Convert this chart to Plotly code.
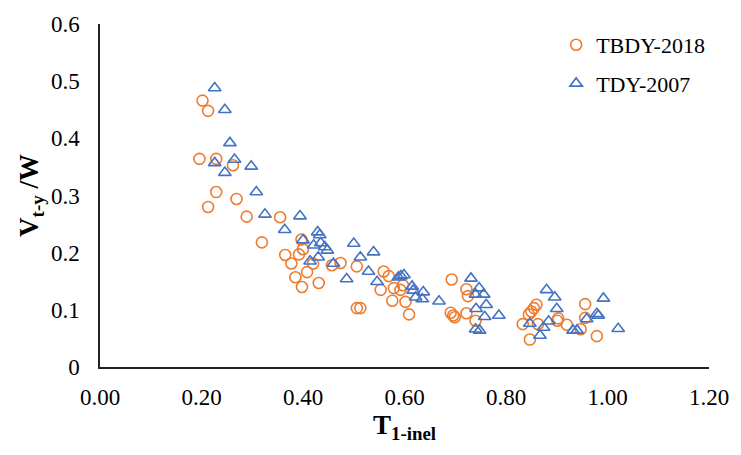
import plotly.graph_objects as go

tbdy_x = [0.202, 0.213, 0.196, 0.229, 0.262, 0.229, 0.269, 0.213, 0.289, 0.355,
          0.319, 0.397, 0.400, 0.392, 0.365, 0.377, 0.420, 0.408, 0.385, 0.431,
          0.398, 0.457, 0.474, 0.506, 0.559, 0.569, 0.553, 0.579, 0.592, 0.597,
          0.576, 0.602, 0.506, 0.513, 0.609, 0.693, 0.722, 0.725, 0.691, 0.696,
          0.699, 0.722, 0.740, 0.860, 0.855, 0.850, 0.845, 0.833, 0.863, 0.847,
          0.903, 0.901, 0.920, 0.947, 0.956, 0.956, 0.979]
tbdy_y = [0.466, 0.448, 0.364, 0.364, 0.353, 0.306, 0.294, 0.280, 0.263, 0.262,
          0.218, 0.223, 0.206, 0.197, 0.196, 0.181, 0.181, 0.166, 0.157, 0.147,
          0.140, 0.178, 0.182, 0.176, 0.167, 0.159, 0.135, 0.138, 0.135, 0.143,
          0.116, 0.114, 0.103, 0.103, 0.092, 0.153, 0.136, 0.124, 0.095, 0.090,
          0.087, 0.094, 0.081, 0.109, 0.103, 0.097, 0.092, 0.075, 0.075, 0.048,
          0.085, 0.081, 0.074, 0.066, 0.110, 0.086, 0.054]

tdy_x = [0.226, 0.246, 0.256, 0.265, 0.226, 0.246, 0.298, 0.308, 0.325, 0.394,
         0.364, 0.400, 0.429, 0.433, 0.421, 0.435, 0.443, 0.448, 0.430, 0.414,
         0.460, 0.486, 0.500, 0.513, 0.539, 0.529, 0.546, 0.588, 0.593, 0.599,
         0.615, 0.617, 0.637, 0.622, 0.635, 0.668, 0.731, 0.747, 0.740, 0.756,
         0.761, 0.741, 0.758, 0.740, 0.748, 0.786, 0.880, 0.896, 0.900, 0.884,
         0.847, 0.874, 0.867, 0.932, 0.940, 0.959, 0.979, 0.982, 0.992, 1.021]
tdy_y = [0.488, 0.450, 0.392, 0.363, 0.357, 0.340, 0.351, 0.306, 0.267, 0.264,
         0.240, 0.222, 0.236, 0.231, 0.213, 0.217, 0.210, 0.204, 0.192, 0.185,
         0.181, 0.154, 0.216, 0.192, 0.201, 0.167, 0.149, 0.157, 0.159, 0.161,
         0.141, 0.134, 0.131, 0.122, 0.119, 0.115, 0.155, 0.138, 0.127, 0.127,
         0.109, 0.102, 0.088, 0.066, 0.064, 0.090, 0.135, 0.122, 0.102, 0.080,
         0.076, 0.069, 0.055, 0.064, 0.064, 0.084, 0.093, 0.090, 0.120, 0.067]

x_ticks = [0.0, 0.2, 0.4, 0.6, 0.8, 1.0, 1.2]
y_ticks = [0, 0.1, 0.2, 0.3, 0.4, 0.5, 0.6]

ORANGE = "#ED7D31"
BLUE = "#4472C4"
FONT = "Liberation Serif"

fig = go.Figure()
fig.add_trace(go.Scatter(
    x=tbdy_x, y=tbdy_y, mode="markers", name="TBDY-2018", legendgroup="a",
    marker=dict(symbol="circle-open", size=11, color=ORANGE,
                line=dict(color=ORANGE, width=1.6)),
))
fig.add_trace(go.Scatter(
    x=tdy_x, y=tdy_y, mode="markers", name="TDY-2007", legendgroup="b",
    marker=dict(symbol="triangle-up-open", size=11, color=BLUE,
                line=dict(color=BLUE, width=1.6)),
))

fig.update_layout(
    width=741, height=455,
    margin=dict(l=100, r=26, t=17, b=88),
    paper_bgcolor="white", plot_bgcolor="white",
    font=dict(family=FONT, size=23, color="black"),
    showlegend=True,
    legend=dict(x=0.749, y=1.0, xanchor="left", yanchor="top",
                bgcolor="rgba(0,0,0,0)", font=dict(family=FONT, size=22),
                itemwidth=30, tracegroupgap=7),
    xaxis=dict(range=[0, 1.2], tickvals=x_ticks,
               ticktext=[f"{v:.2f}" for v in x_ticks],
               showgrid=False, zeroline=False, showline=True,
               linecolor="#222", linewidth=1.5, ticks="", ticklen=0,
               ticklabelstandoff=9,
               tickfont=dict(family=FONT, size=23),
               title=dict(text="<b>T<sub>1-inel</sub></b>",
                          font=dict(family=FONT, size=27), standoff=5)),
    yaxis=dict(range=[0, 0.6], tickvals=y_ticks,
               ticktext=[f"{v:g}" for v in y_ticks],
               showgrid=False, zeroline=False, showline=True,
               linecolor="#222", linewidth=1.5, ticks="", ticklen=0,
               ticklabelstandoff=14,
               tickfont=dict(family=FONT, size=23),
               title=dict(text="<b>V<sub>t-y</sub> /W</b>",
                          font=dict(family=FONT, size=27), standoff=4)),
)

fig.write_html("out.html")
